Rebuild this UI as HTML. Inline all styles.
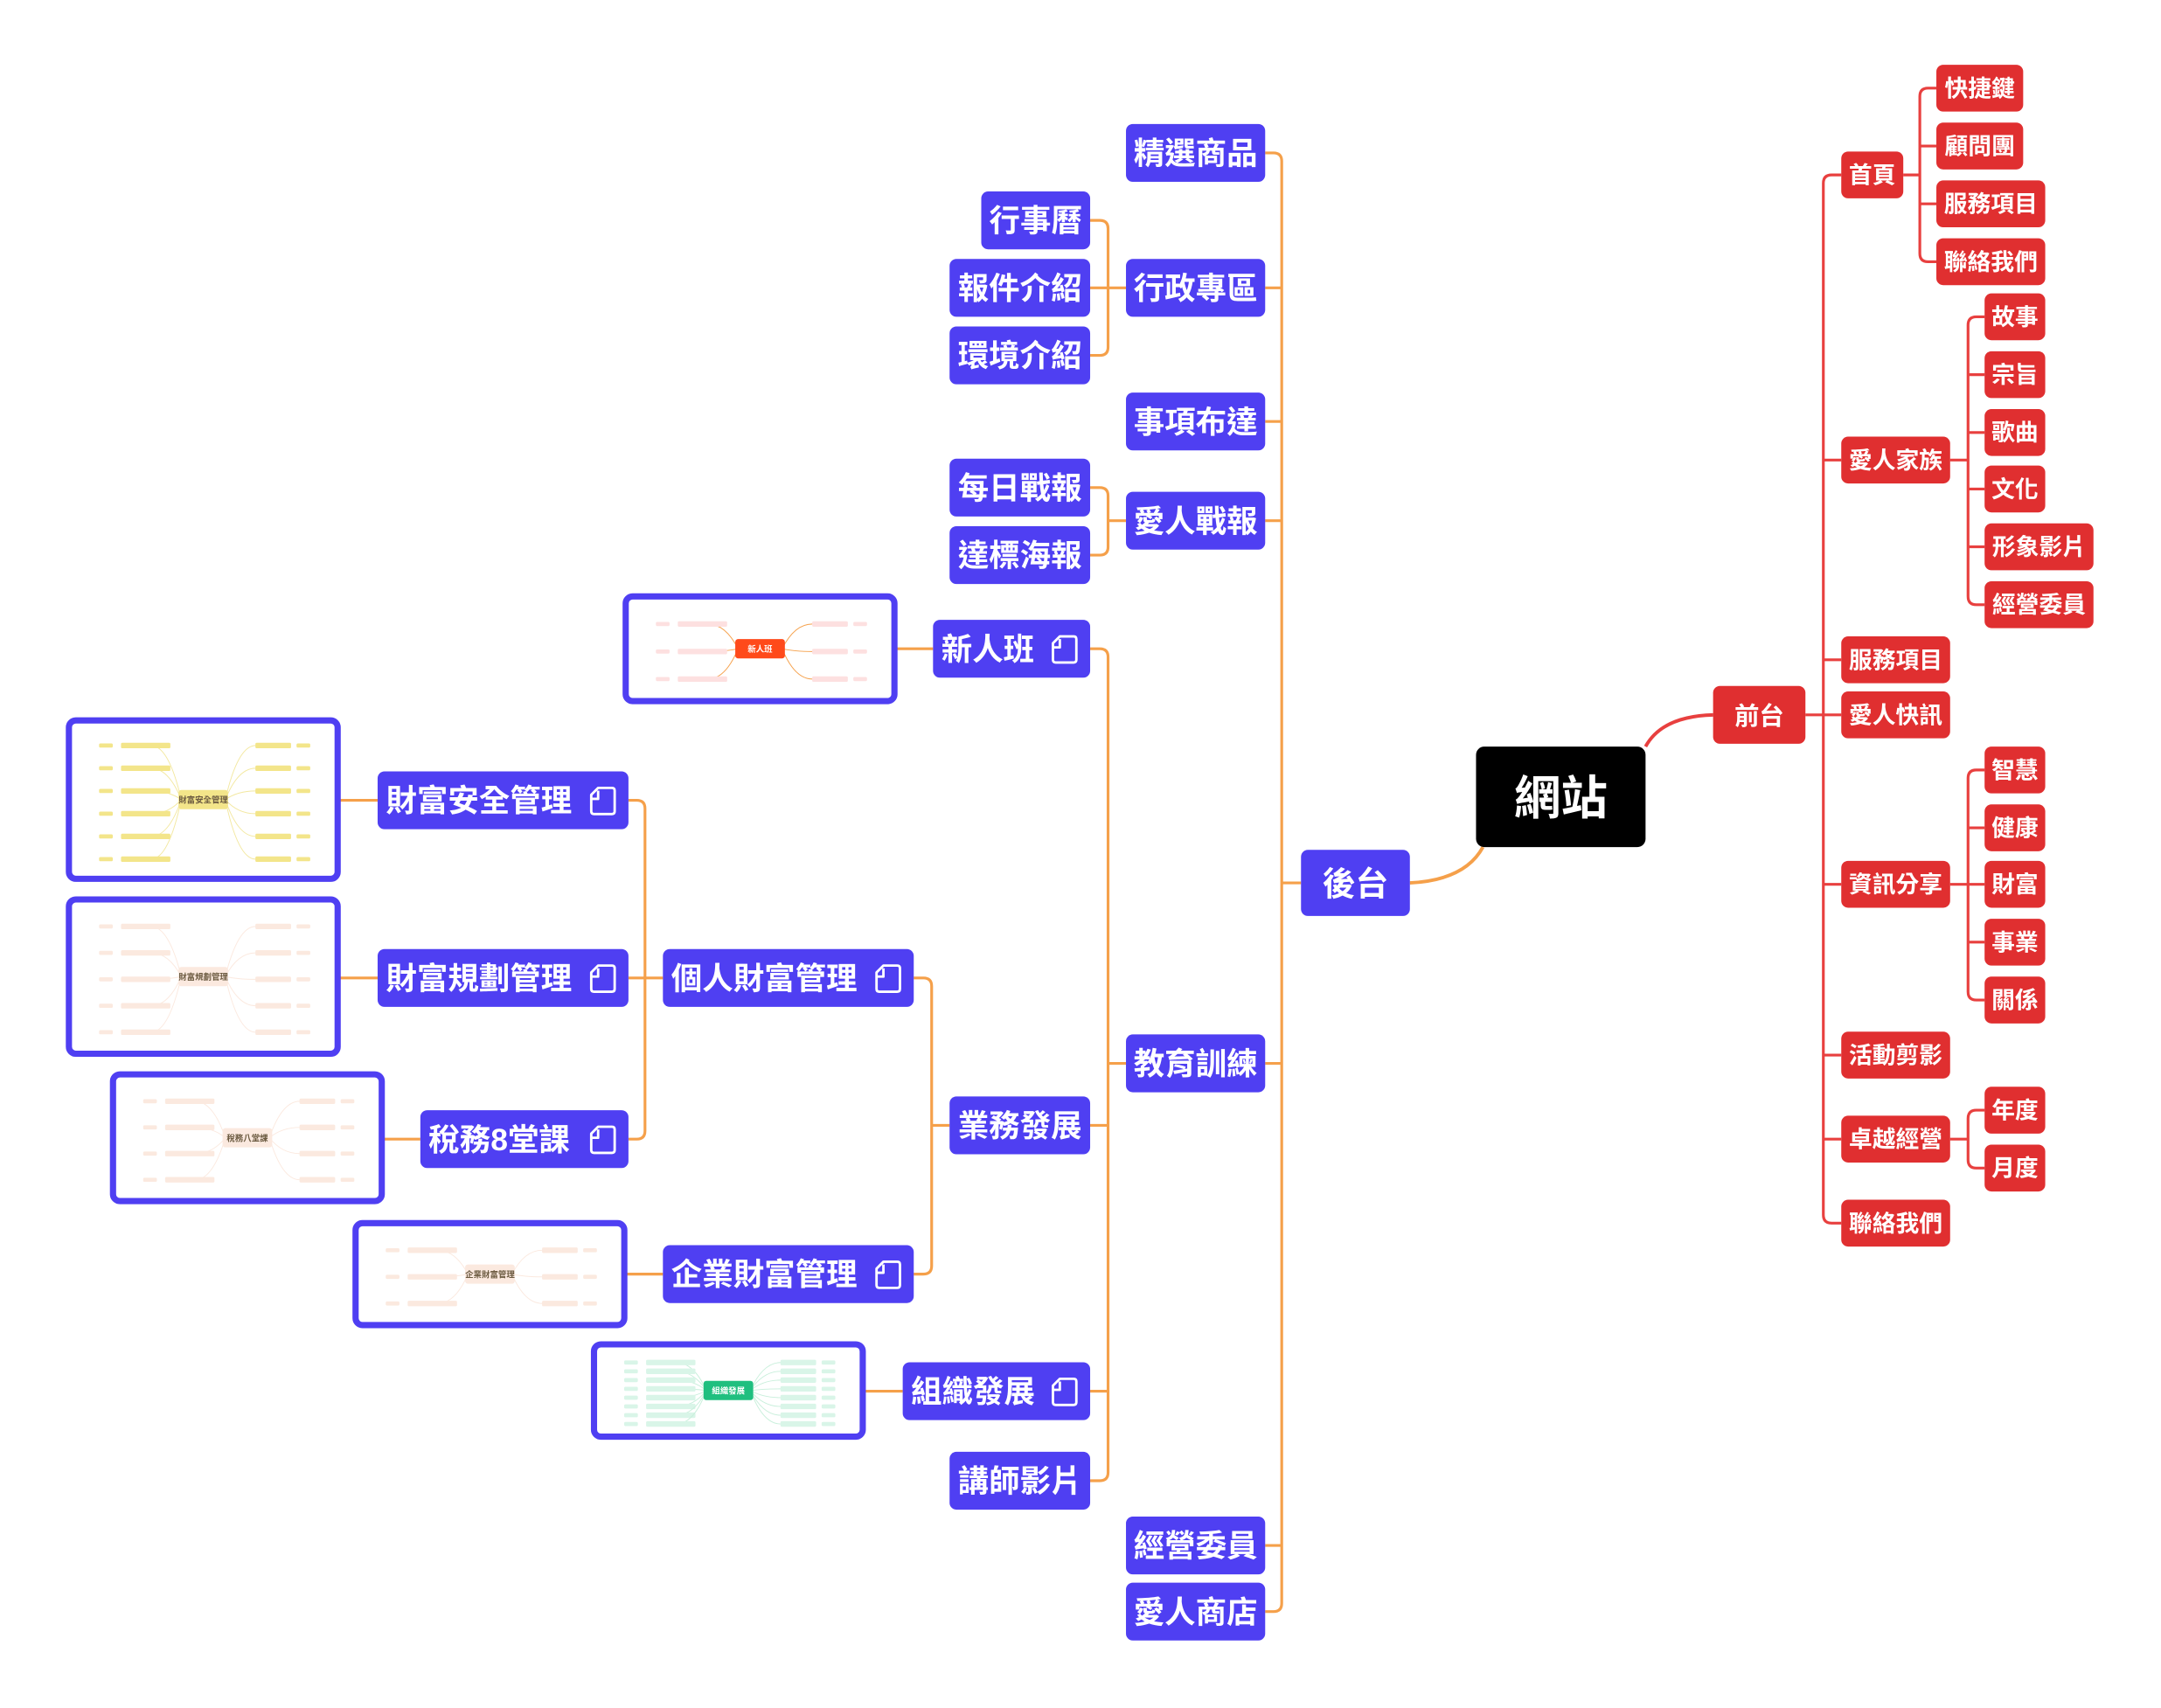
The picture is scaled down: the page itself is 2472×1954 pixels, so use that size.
<!DOCTYPE html>
<html><head><meta charset="utf-8">
<style>
html,body{margin:0;padding:0;background:#fff;}
svg{display:block}
text{font-family:"Liberation Sans","Noto Sans CJK TC","Noto Sans CJK SC",sans-serif;font-weight:bold;fill:#fff;}
.p rect{fill:#4f3ff2}
.r rect{fill:#e02f30}
.o{stroke:#f5a04a;stroke-width:2;fill:none}
.rl{stroke:#e8403f;stroke-width:2;fill:none}
.th{fill:#fff;stroke:#4f3ff2;stroke-width:4.5}
</style></head>
<body>
<svg id="s" width="2472" height="1954" viewBox="0 0 1568 1240" preserveAspectRatio="none" xmlns="http://www.w3.org/2000/svg">
<g class="o">
<path d="M918,111 h6 q6,0 6,6 V1164 q0,6 -6,6 h-6"/>
<path d="M918,209 h12 M918,306 h12 M918,378 h12 M918,772 h12 M918,1122 h12 M944,641 h-14"/>
<path d="M791,160 h7 q6,0 6,6 V252 q0,6 -6,6 h-7 M791,209 h26"/>
<path d="M791,354 h7 q6,0 6,6 V397 q0,6 -6,6 h-7 M804,378 h13"/>
<path d="M791,471 h7 q6,0 6,6 V1069 q0,6 -6,6 h-7 M804,772 h13 M791,817 h13 M791,1010 h13"/>
<path d="M663,710 h7 q6,0 6,6 V919 q0,6 -6,6 h-7 M676,817 h13"/>
<path d="M456,581 h6 q6,0 6,6 V821 q0,6 -6,6 h-6 M456,710 h25"/>
<path d="M651,471 h26 M247,581 h27 M247,710 h27 M279,827 h26 M455,925 h26 M628,1010 h27"/>
<path d="M1023,641 q40,-2 53,-26" stroke-width="2.5"/>
</g>
<g class="rl">
<path d="M1194,542 q12,-22 49,-23" stroke-width="2.5"/>
<path d="M1336,127 h-7 q-6,0 -6,6 V882 q0,6 6,6 h7 M1310,519 h26 M1323,334 h13 M1323,479 h13 M1323,642 h13 M1323,766 h13 M1323,827 h13"/>
<path d="M1405,64 h-6 q-6,0 -6,6 V184 q0,6 6,6 h6 M1381,127 h12 M1393,106 h12 M1393,148 h12"/>
<path d="M1440,230 h-6 q-6,0 -6,6 V433 q0,6 6,6 h6 M1415,334 h13 M1428,272 h12 M1428,314 h12 M1428,355 h12 M1428,397 h12"/>
<path d="M1440,559 h-6 q-6,0 -6,6 V720 q0,6 6,6 h6 M1415,642 h25 M1428,601 h12 M1428,684 h12"/>
<path d="M1440,806 h-6 q-6,0 -6,6 V842 q0,6 6,6 h6 M1415,827 h13"/>
</g>

<rect x="1071" y="542" width="123" height="73" rx="6" fill="#000"/>
<text x="1132.5" y="591" font-size="34" text-anchor="middle">網站</text>
<g class="p"><rect x="944" y="617" width="79" height="48" rx="5"/><text x="983.5" y="650" font-size="24" text-anchor="middle">後台</text></g>
<g class="r"><rect x="1243" y="498" width="67" height="42" rx="5"/><text x="1276.5" y="526" font-size="18" text-anchor="middle">前台</text></g>

<g id="purple"></g>
<g id="red"></g>
<g id="thumbs"></g>
</svg>
<script>
var NS="http://www.w3.org/2000/svg";
function el(p,t,a,txt){var e=document.createElementNS(NS,t);for(var k in a)e.setAttribute(k,a[k]);if(txt!=null)e.textContent=txt;p.appendChild(e);return e;}
var P=document.getElementById('purple');
var pn=[["精選商品",817,918,90],["行事曆",712,791,139],["報件介紹",689,791,188],["行政專區",817,918,188],["環境介紹",689,791,237],["事項布達",817,918,285],["每日戰報",689,791,333],["愛人戰報",817,918,357],["達標海報",689,791,382],["新人班",677,791,450,1],["教育訓練",817,918,751],["業務發展",689,791,796],["個人財富管理",481,663,689,1],["財富安全管理",274,456,560,1],["財富規劃管理",274,456,689,1],["稅務8堂課",305,456,806,1],["企業財富管理",481,663,904,1],["組織發展",655,791,989,1],["講師影片",689,791,1054],["經營委員",817,918,1101],["愛人商店",817,918,1149]];
pn.forEach(function(n){var g=el(P,'g',{'class':'p'});el(g,'rect',{x:n[1],y:n[3],width:n[2]-n[1],height:42,rx:5});
 if(n[4]){el(g,'text',{x:n[1]+6,y:n[3]+29,'font-size':22.5},n[0]);var ix=n[2]-27,iy=n[3]+12;
  el(g,'path',{d:'M'+(ix+5)+','+iy+' h10 q2,0 2,2 v15 q0,2 -2,2 h-13 q-2,0 -2,-2 v-12 z M'+ix+','+(iy+8)+' h5 v-6',fill:'none',stroke:'#fff','stroke-width':1.8,'stroke-linejoin':'round'});}
 else el(g,'text',{x:(n[1]+n[2])/2,y:n[3]+29,'font-size':22.5,'text-anchor':'middle'},n[0]);});
var R=document.getElementById('red');
var rn=[["首頁",1336,1381,110],["快捷鍵",1405,1468,47],["顧問團",1405,1468,89],["服務項目",1405,1484,131],["聯絡我們",1405,1484,173],["故事",1440,1484,213],["宗旨",1440,1484,255],["歌曲",1440,1484,297],["文化",1440,1484,338],["形象影片",1440,1519,380],["經營委員",1440,1519,422],["愛人家族",1336,1415,317],["服務項目",1336,1415,462],["愛人快訊",1336,1415,502],["資訊分享",1336,1415,625],["智慧",1440,1484,542],["健康",1440,1484,584],["財富",1440,1484,625],["事業",1440,1484,667],["關係",1440,1484,709],["活動剪影",1336,1415,749],["卓越經營",1336,1415,810],["年度",1440,1484,789],["月度",1440,1484,831],["聯絡我們",1336,1415,871]];
rn.forEach(function(n){var g=el(R,'g',{'class':'r'});el(g,'rect',{x:n[1],y:n[3],width:n[2]-n[1],height:34,rx:5});el(g,'text',{x:(n[1]+n[2])/2,y:n[3]+23,'font-size':17,'text-anchor':'middle'},n[0]);});
var T=document.getElementById('thumbs');
var th=[["新人班",452,431,651,511,"#ff4a1a","#fde0e0","#f5a04a",3],["財富安全管理",48,521,247,640,"#f3e58a","#f3e58a","#f3e8a0",6],["財富規劃管理",48,651,247,767,"#fbe9df","#fbe9df","#fbe9df",5],["稅務八堂課",80,778,279,874,"#fbe9df","#fbe9df","#fbe9df",4],["企業財富管理",256,886,455,964,"#fbe9df","#fbe9df","#fbe9df",3],["組織發展",429,974,628,1045,"#1fbf7f","#d9f5e8","#c8efdb",8]];
th.forEach(function(t){var x1=t[1],y1=t[2],x2=t[3],y2=t[4];
 el(T,'rect',{x:x1+2,y:y1+2,width:x2-x1-4,height:y2-y1-4,rx:5,'class':'th'});
 var cx=(x1+x2)/2,cy=(y1+y2)/2,w=(x2-x1),h=(y2-y1)-20,n=t[8];
 for(var i=0;i<n;i++){var yy=y1+12+(i+0.5)*h/n;
  el(T,'path',{d:'M'+(cx-16)+','+cy+' Q'+(cx-25)+','+yy+' '+(cx-38)+','+yy+' M'+(cx+16)+','+cy+' Q'+(cx+25)+','+yy+' '+(cx+38)+','+yy,stroke:t[7],'stroke-width':0.6,fill:'none'});
  el(T,'rect',{x:x1+w*0.2,y:yy-2,width:w*0.18,height:4,rx:1,fill:t[6]});
  el(T,'rect',{x:x1+w*0.12,y:yy-1.5,width:w*0.05,height:3,rx:1,fill:t[6]});
  el(T,'rect',{x:cx+w*0.19,y:yy-2,width:w*0.13,height:4,rx:1,fill:t[6]});
  el(T,'rect',{x:cx+w*0.34,y:yy-1.5,width:w*0.05,height:3,rx:1,fill:t[6]});}
 el(T,'rect',{x:cx-18,y:cy-7,width:36,height:14,rx:2,fill:t[5]});
 el(T,'text',{x:cx,y:cy+2.4,'font-size':6,'text-anchor':'middle',style:'fill:'+(t[5]=="#fbe9df"||t[5]=="#f3e58a"?'#6b5a40':'#fff')},t[0]);});
</script>
</body></html>
